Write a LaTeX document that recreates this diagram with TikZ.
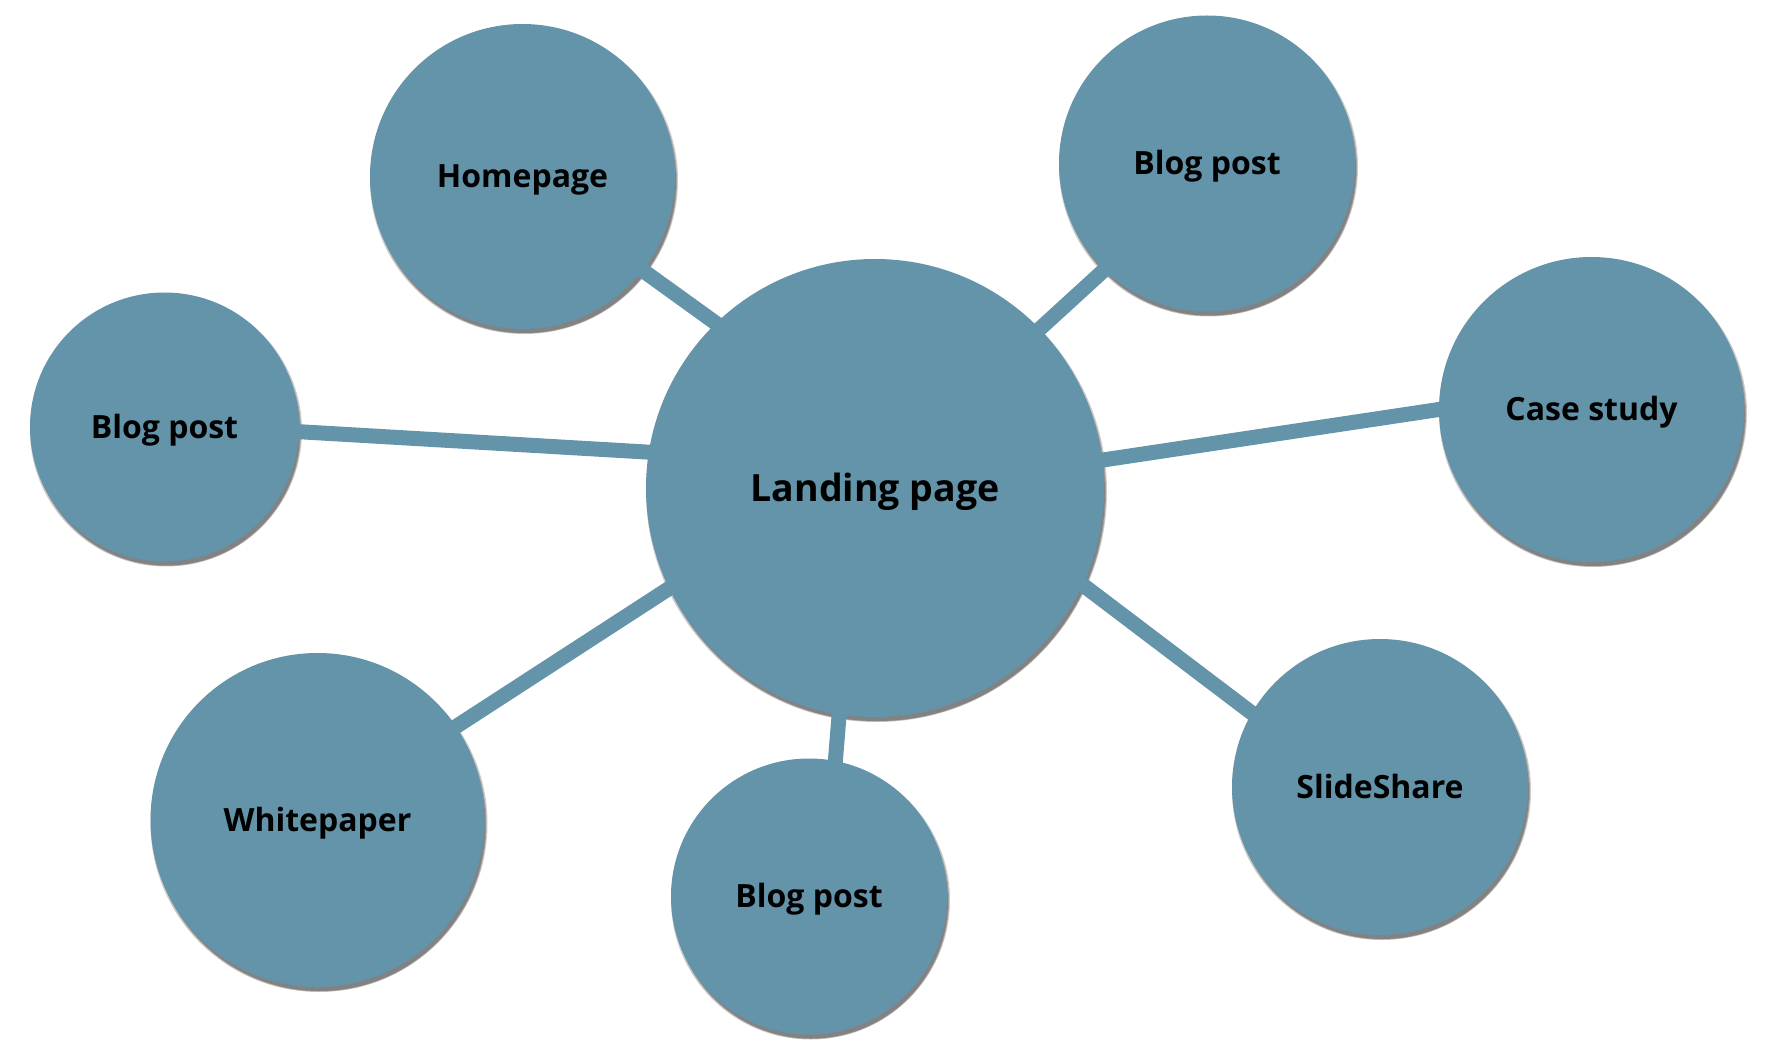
\documentclass[tikz,border=0pt]{standalone}
\usepackage{fontspec}
\setmainfont{Open Sans}
\definecolor{bub}{RGB}{99,148,170}
\pgfdeclarelayer{shadowlayer}
\pgfdeclarelayer{linklayer}
\pgfsetlayers{shadowlayer,linklayer,main}
\begin{document}
\begin{tikzpicture}[x=1pt,y=-1pt,
  bubble/.style={circle, fill=bub, inner sep=0pt, text=black,
    text height=22.8pt, text depth=0pt,
    font=\bfseries\fontsize{32}{38}\selectfont},
  bigbubble/.style={bubble, text height=26.8pt, font=\bfseries\fontsize{37.5}{44}\selectfont},
  shadowdisc/.style={fill=black, opacity=0.2},
  link/.style={draw=bub, line width=15pt, shorten <=-14pt, shorten >=-14pt}]
\useasboundingbox (0,0) rectangle (1775,1048);
\node[bigbubble, minimum size=458pt] (land) at (875,488) {Landing page};
\foreach \n/\x/\y/\d/\t in {
  home/522.5/176.5/305/Homepage,
  btr/1207/163.5/296/Blog post,
  case/1591.5/409.5/305/Case study,
  bl/164.5/427/269/Blog post,
  white/317.5/820/334/Whitepaper,
  bb/809/896.5/276/Blog post,
  slide/1380/787/296/SlideShare}
  {\node[bubble, minimum size=\d pt] (\n) at (\x,\y) {\t};}
\begin{pgfonlayer}{shadowlayer}
\foreach \n/\d in {land/458,home/305,btr/296,case/305,bl/269,white/334,bb/276,slide/296}{
  \fill[shadowdisc] ([xshift=1.5pt,yshift=-3.5pt]\n.center) circle[radius=\d/2*1pt+1.5pt];
  \fill[shadowdisc] ([xshift=2pt,yshift=-4.5pt]\n.center) circle[radius=\d/2*1pt];
  \fill[shadowdisc] ([xshift=2pt,yshift=-5pt]\n.center) circle[radius=\d/2*1pt-1pt];
}
\end{pgfonlayer}
\begin{pgfonlayer}{linklayer}
\draw[link] (home.-38.5) -- (land.134.5);
\draw[link] (btr.226.5) -- (land.44);
\draw[link] (case.180) -- (land.7);
\draw[link] (bl.-2) -- (land.171.6);
\draw[link] (white.34) -- (land.206);
\draw[link] (bb.79) -- (land.261.5);
\draw[link] (slide.150.7) -- (land.-25.5);
\end{pgfonlayer}
\end{tikzpicture}
\end{document}
